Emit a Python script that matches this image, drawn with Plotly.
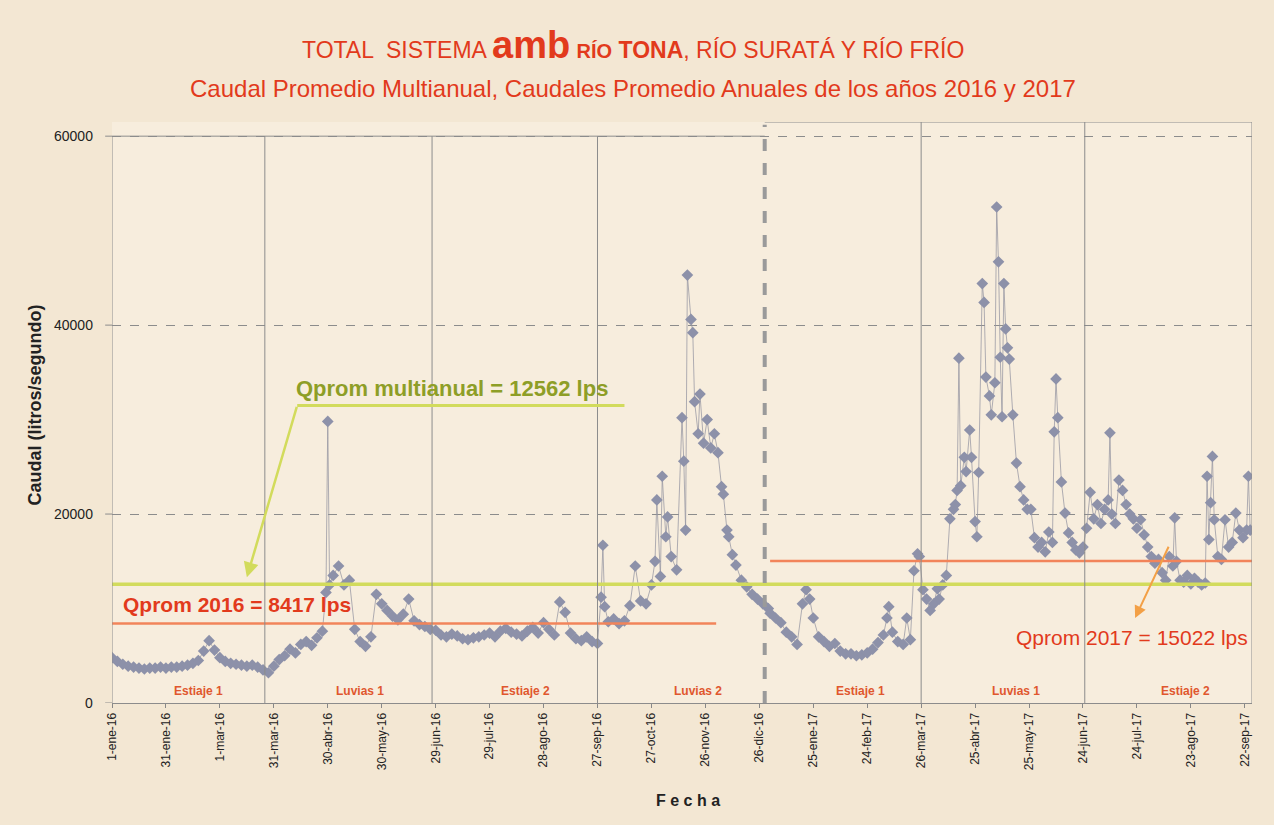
import pandas as pd
import plotly.graph_objects as go

# ---------------- DATA ----------------
start_date = pd.Timestamp("2016-01-01")

# day offsets from 1-ene-2016 and daily flow (litros/segundo)
day_2016 = [0, 3, 6, 9, 12, 15, 18, 21, 24, 27, 30, 33, 36, 39, 42, 45, 48, 51, 54, 57,
            60, 63, 66, 69, 72, 75, 78, 81, 84, 87, 90, 93, 96, 99, 102, 105, 108, 111, 114, 117,
            119, 120, 121, 123, 126, 129, 132, 135, 138, 141, 144, 147, 150, 153, 156, 159, 162, 165, 168, 171,
            174, 177, 180, 183, 186, 189, 192, 195, 198, 201, 204, 207, 210, 213, 216, 219, 222, 225, 228, 231,
            234, 237, 240, 243, 246, 249, 252, 255, 258, 261, 264, 267, 270, 272, 273, 274, 276, 279, 282, 285,
            288, 291, 294, 297, 300, 302, 303, 305, 306, 308, 309, 311, 314, 317, 318, 319, 320, 322, 323, 324,
            326, 327, 329, 331, 333, 335, 337, 339, 340, 342, 343, 345, 347, 350, 353, 356, 359, 362, 365]
flow_2016 = [4800, 4400, 4100, 3900, 3800, 3700, 3600, 3700, 3700, 3800, 3700, 3800, 3800, 3900, 4000, 4200, 4500, 5500, 6600, 5600,
             4800, 4400, 4200, 4100, 4000, 3900, 4000, 3800, 3500, 3200, 3900, 4600, 5000, 5700, 5300, 6200, 6500, 6100, 6900, 7600,
             11700, 29800, 12500, 13500, 14500, 12500, 13000, 7800, 6500, 6000, 7000, 11500, 10500, 9800, 9200, 8800, 9400, 11000, 8700, 8300,
             8100, 7800, 7700, 7200, 7000, 7300, 7100, 6800, 6700, 6900, 7000, 7200, 7400, 7000, 7600, 7900, 7500, 7300, 7100, 7600,
             8000, 7400, 8500, 7800, 7200, 10700, 9600, 7400, 6800, 6600, 7000, 6500, 6300, 11200, 16700, 10200, 8600, 8900, 8400, 8700,
             10300, 14500, 10800, 10500, 12500, 15000, 21500, 13400, 24000, 17600, 19700, 15500, 14100, 30200, 25600, 18300, 45300, 40600, 39200, 31900,
             28500, 32700, 27500, 30000, 27000, 28500, 26500, 22900, 22100, 18300, 17600, 15700, 14600, 13000, 12300, 11500, 11000, 10500, 10000]

day_2017 = [366, 369, 372, 375, 378, 381, 384, 386, 388, 390, 393, 396, 399, 402, 405, 408, 411, 414, 417, 420,
            423, 426, 429, 431, 432, 434, 437, 440, 442, 444, 446, 448, 449, 451, 453, 455, 457, 459, 460, 462,
            464, 466, 468, 469, 470, 471, 472, 474, 475, 477, 478, 480, 481, 482, 484, 485, 486, 488, 489, 491,
            492, 493, 494, 495, 496, 497, 498, 499, 501, 503, 505, 507, 509, 511, 513, 515, 517, 519, 521, 523,
            524, 525, 526, 528, 530, 532, 534, 536, 538, 540, 542, 544, 546, 548, 550, 552, 554, 555, 556, 558,
            560, 562, 564, 566, 568, 570, 572, 574, 576, 578, 580, 582, 584, 586, 588, 590, 591, 592, 594, 596,
            598, 600, 602, 604, 606, 608, 609, 610, 611, 612, 613, 615, 617, 619, 621, 623, 625, 627, 629, 631,
            632, 633]
flow_2017 = [9500, 9000, 8500, 7500, 7000, 6200, 10500, 12000, 11000, 9000, 7000, 6500, 6000, 6300, 5500, 5200, 5200, 5000, 5100, 5300,
             5700, 6400, 7200, 9000, 10200, 7500, 6500, 6200, 9000, 6700, 14000, 15800, 15500, 12000, 11000, 9800, 10500, 12100, 11000, 12500,
             13500, 19500, 20500, 21000, 22500, 36500, 23000, 26000, 24500, 28900, 26000, 19200, 17600, 24400, 44400, 42400, 34500, 32500, 30500, 33900,
             52500, 46700, 36600, 30300, 44400, 39600, 37600, 36400, 30500, 25400, 22900, 21500, 20500, 20500, 17500, 16500, 17000, 16000, 18100, 17000,
             28700, 34300, 30200, 23400, 20100, 18000, 17000, 16200, 15900, 16500, 18500, 22300, 19500, 21000, 19000, 20500, 21500, 28600, 20000, 19000,
             23600, 22500, 21000, 20000, 19500, 18500, 19400, 17800, 16500, 15500, 14800, 15200, 13800, 13000, 15500, 14500, 19600, 15000, 13000, 12800,
             13500, 12600, 13200, 12800, 12500, 12700, 24000, 17300, 21200, 26100, 19400, 15500, 15200, 19400, 16500, 17000, 20100, 18300, 17500, 18300,
             24000, 18300]

q_multianual = 12562
q_2016 = 8417
q_2017 = 15022

tick_dates = ["2016-01-01", "2016-01-31", "2016-03-01", "2016-03-31", "2016-04-30", "2016-05-30",
              "2016-06-29", "2016-07-29", "2016-08-28", "2016-09-27", "2016-10-27", "2016-11-26",
              "2016-12-26", "2017-01-25", "2017-02-24", "2017-03-26", "2017-04-25", "2017-05-25",
              "2017-06-24", "2017-07-24", "2017-08-23", "2017-09-22"]
tick_labels = ["1-ene-16", "31-ene-16", "1-mar-16", "31-mar-16", "30-abr-16", "30-may-16",
               "29-jun-16", "29-jul-16", "28-ago-16", "27-sep-16", "27-oct-16", "26-nov-16",
               "26-dic-16", "25-ene-17", "24-feb-17", "26-mar-17", "25-abr-17", "25-may-17",
               "24-jun-17", "24-jul-17", "23-ago-17", "22-sep-17"]
y_ticks = [0, 20000, 40000, 60000]
y_tick_labels = ["0", "20000", "40000", "60000"]

season_labels = ["Estiaje 1", "Luvias 1", "Estiaje 2", "Luvias 2", "Estiaje 1", "Luvias 1", "Estiaje 2"]
season_label_dates = ["2016-02-18", "2016-05-18", "2016-08-18", "2016-11-22",
                      "2017-02-20", "2017-05-18", "2017-08-20"]

# ---------------- FIGURE ----------------
days = day_2016 + day_2017
flows = flow_2016 + flow_2017
fechas = [start_date + pd.Timedelta(days=d) for d in days]

x_end = start_date + pd.Timedelta(days=634)
y_top = 61500

font_main = "Liberation Sans, Arial, sans-serif"
red_txt = "#e23a1c"
green_line = "#d2db5c"
green_txt = "#8e9e27"
red_line = "#f2845a"

fig = go.Figure()

fig.add_trace(go.Scatter(
    x=fechas, y=flows, mode="lines+markers",
    line=dict(color="rgba(150,150,162,0.75)", width=1),
    marker=dict(symbol="diamond", size=9, color="#8d91a9"),
    hoverinfo="x+y", showlegend=False))

fig.add_trace(go.Scatter(
    x=[start_date, x_end], y=[q_multianual, q_multianual], mode="lines",
    line=dict(color=green_line, width=3.5), showlegend=False, hoverinfo="skip"))
fig.add_trace(go.Scatter(
    x=[start_date, start_date + pd.Timedelta(days=336)], y=[q_2016, q_2016], mode="lines",
    line=dict(color=red_line, width=2.5), showlegend=False, hoverinfo="skip"))
fig.add_trace(go.Scatter(
    x=[start_date + pd.Timedelta(days=366), x_end], y=[q_2017, q_2017], mode="lines",
    line=dict(color=red_line, width=2.5), showlegend=False, hoverinfo="skip"))

shapes = []
grid_col = "#8c8c8c"
shapes.append(dict(type="line", xref="x", yref="y", x0=start_date, x1="2016-12-29",
                   y0=60000, y1=60000, line=dict(color=grid_col, width=1)))
shapes.append(dict(type="line", xref="x", yref="y", x0=start_date, x1=start_date,
                   y0=0, y1=60000, line=dict(color=grid_col, width=1)))
for d in ["2016-03-26", "2016-06-27", "2016-09-27"]:
    shapes.append(dict(type="line", xref="x", yref="y", x0=d, x1=d, y0=0, y1=60000,
                       line=dict(color=grid_col, width=1)))
for d in ["2017-03-26", "2017-06-25"]:
    shapes.append(dict(type="line", xref="x", yref="y", x0=d, x1=d, y0=0, y1=y_top,
                       line=dict(color=grid_col, width=1)))
shapes.append(dict(type="line", xref="x", yref="y", x0="2016-12-29", x1=x_end,
                   y0=y_top, y1=y_top, line=dict(color=grid_col, width=1)))
shapes.append(dict(type="line", xref="x", yref="y", x0=x_end, x1=x_end,
                   y0=0, y1=y_top, line=dict(color=grid_col, width=1)))
shapes.append(dict(type="line", xref="x", yref="y", x0="2016-12-29", x1="2016-12-29",
                   y0=0, y1=61200, line=dict(color="#9a9a9a", width=4, dash="dash")))
shapes.append(dict(type="line", xref="x", yref="y", x0="2016-04-13", x1="2016-10-12",
                   y0=31500, y1=31500, line=dict(color=green_line, width=3)))
# short y tick marks
for v in y_ticks:
    shapes.append(dict(type="line", xref="paper", yref="y", x0=-0.006, x1=0,
                       y0=v, y1=v, line=dict(color=grid_col, width=1)))

annotations = []
annotations.append(dict(
    xref="paper", yref="paper", x=0.457, y=1.133, xanchor="center", yanchor="middle",
    showarrow=False,
    text=('TOTAL  SISTEMA <b><span style="font-size:38px">amb</span> '
          '<span style="font-size:20px">RÍO</span> TONA</b>, RÍO SURATÁ Y RÍO FRÍO'),
    font=dict(family=font_main, size=23, color=red_txt)))
annotations.append(dict(
    xref="paper", yref="paper", x=0.457, y=1.058, xanchor="center", yanchor="middle",
    showarrow=False,
    text='Caudal Promedio Multianual, Caudales Promedio Anuales de los años 2016 y 2017',
    font=dict(family=font_main, size=24, color=red_txt)))
annotations.append(dict(
    xref="paper", yref="paper", x=-0.068, y=0.513, xanchor="center", yanchor="middle",
    showarrow=False, textangle=-90, text="<b>Caudal (litros/segundo)</b>",
    font=dict(family=font_main, size=18, color="#222222")))
annotations.append(dict(
    xref="paper", yref="paper", x=0.505, y=-0.167, xanchor="center", yanchor="middle",
    showarrow=False, text="<b>F e c h a</b>",
    font=dict(family=font_main, size=16, color="#222222")))
for v, lab in zip(y_ticks, y_tick_labels):
    annotations.append(dict(
        xref="paper", yref="y", x=-0.015, y=v, xanchor="right", yanchor="middle",
        showarrow=False, text=lab,
        font=dict(family=font_main, size=14, color="#222222")))
annotations.append(dict(
    xref="x", yref="y", x="2016-07-08", y=33300, xanchor="center", yanchor="middle",
    showarrow=False, text="<b>Qprom multianual = 12562 lps</b>",
    font=dict(family=font_main, size=22, color=green_txt)))
annotations.append(dict(
    xref="x", yref="y", x="2016-03-16", y=13300, ax="2016-04-13", ay=31500,
    axref="x", ayref="y", showarrow=True, arrowhead=2, arrowsize=1.2,
    arrowwidth=2.5, arrowcolor=green_line, text=""))
annotations.append(dict(
    xref="x", yref="y", x="2016-01-06", y=10400, xanchor="left", yanchor="middle",
    showarrow=False, text="<b>Qprom 2016 = 8417 lps</b>",
    font=dict(family=font_main, size=21, color=red_txt)))
annotations.append(dict(
    xref="x", yref="y", x="2017-07-21", y=6900, xanchor="center", yanchor="middle",
    showarrow=False, text="Qprom 2017 = 15022 lps",
    font=dict(family=font_main, size=21, color=red_txt)))
annotations.append(dict(
    xref="x", yref="y", x="2017-07-23", y=9000, ax="2017-08-11", ay=16700,
    axref="x", ayref="y", showarrow=True, arrowhead=2, arrowsize=1.2,
    arrowwidth=2, arrowcolor="#f3a046", text=""))
for lab, d in zip(season_labels, season_label_dates):
    annotations.append(dict(
        xref="x", yref="y", x=d, y=1300, xanchor="center", yanchor="middle",
        showarrow=False, text="<b>" + lab + "</b>",
        font=dict(family=font_main, size=12, color="#e0572e")))

fig.update_layout(
    width=1274, height=825,
    margin=dict(l=112, r=22, t=122, b=122),
    paper_bgcolor="#f3e7d3",
    plot_bgcolor="#f7eddd",
    showlegend=False,
    shapes=shapes,
    annotations=annotations,
    font=dict(family=font_main, color="#222222"),
    xaxis=dict(
        type="date", range=[start_date, x_end],
        tickmode="array", tickvals=tick_dates, ticktext=tick_labels,
        tickangle=-90, tickfont=dict(size=12, color="#222222"),
        ticks="outside", ticklen=4, tickcolor="#888888",
        showgrid=False, zeroline=False,
        showline=True, linecolor="#8c8c8c", linewidth=1),
    yaxis=dict(
        range=[0, y_top], tickmode="array", tickvals=y_ticks,
        showticklabels=False, ticks="",
        showgrid=True, gridcolor="#8c8c8c", gridwidth=1, griddash="dash",
        zeroline=False, showline=False),
)

fig.write_html("out.html", config={"displayModeBar": False},
               post_script="document.body.style.margin='0px';document.body.style.background='#f3e7d3';")
